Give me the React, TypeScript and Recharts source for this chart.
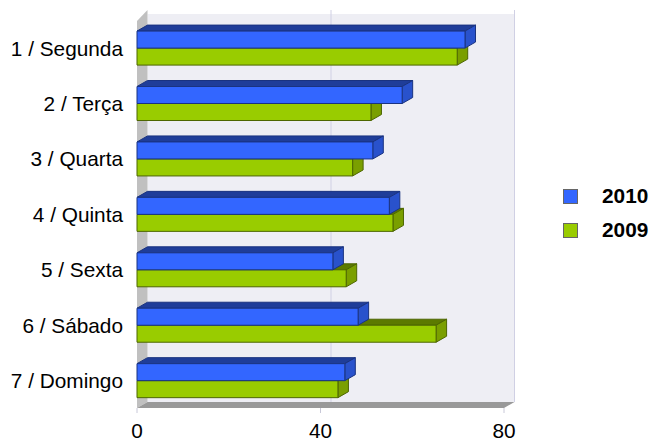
import { Bar, BarChart, CartesianGrid, Legend, XAxis, YAxis } from 'recharts';

const DAYS = ['1 / Segunda', '2 / Terça', '3 / Quarta', '4 / Quinta', '5 / Sexta', '6 / Sábado', '7 / Domingo'];
const VALUES_2010 = [71.5, 57.8, 51.4, 55, 42.7, 48.2, 45.3];
const VALUES_2009 = [69.8, 51, 47, 55.8, 45.6, 65.2, 43.8];
const X_TICKS = [0, 40, 80];
const X_MAX = 80;

const data = DAYS.map((name, i) => ({ name, v2010: VALUES_2010[i], v2009: VALUES_2009[i] }));

const FONT = '"Liberation Sans", Arial, sans-serif';
const FONT_SIZE = 20.8;
const DX = 10.5;
const DY = 6;

// plot area in pixels, the walls hang off it
const LEFT = 137;
const RIGHT = 504;
const TOP = 20;
const BOTTOM = 408;
const WALL_TOP = 10;
const LEGEND_WIDTH = 88;

const BLUE = { front: '#3366ff', top: '#1f3d99', side: '#2952cc', line: '#1a3380' };
const GREEN = { front: '#99cc00', top: '#5c7a00', side: '#7a9f00', line: '#4d6600' };

// bars are declared 2009 first so 2010 paints over it, then swapped into their slots
function box(colors: typeof BLUE, slot: number) {
  return (props: any) => {
    const { x, y: y0, width: w, height: h } = props;
    const y = y0 + slot * h;
    return (
      <g stroke={colors.line} strokeWidth={1} strokeLinejoin="round">
        <polygon fill={colors.top} points={`${x},${y} ${x + DX},${y - DY} ${x + w + DX},${y - DY} ${x + w},${y}`} />
        <polygon fill={colors.side} points={`${x + w},${y} ${x + w + DX},${y - DY} ${x + w + DX},${y + h - DY} ${x + w},${y + h}`} />
        <rect x={x} y={y} width={w} height={h} fill={colors.front} />
      </g>
    );
  };
}

// sits behind the chart's own svg, the grid draws below plain svg children otherwise
function Walls() {
  return (
    <svg width={651} height={441} style={{ position: 'absolute', left: 0, top: 0 }}>
      <polygon fill="#eeeef4" points={`${LEFT + DX},${TOP - DY} ${RIGHT + DX},${TOP - DY} ${RIGHT + DX},${BOTTOM - DY} ${LEFT + DX},${BOTTOM - DY}`} />
      <polygon fill="#c0c0c0" points={`${LEFT},${TOP + 1} ${LEFT + DX},${WALL_TOP} ${LEFT + DX},${BOTTOM - DY} ${LEFT},${BOTTOM}`} />
      <polygon fill="#999999" points={`${LEFT},${BOTTOM} ${LEFT + DX},${BOTTOM - DY} ${RIGHT + DX},${BOTTOM - DY} ${RIGHT},${BOTTOM}`} />
    </svg>
  );
}

function LegendBox() {
  const items = [
    { label: '2010', color: BLUE.front },
    { label: '2009', color: GREEN.front },
  ];
  return (
    <div style={{ fontFamily: FONT, fontSize: FONT_SIZE, fontWeight: 700, color: '#000' }}>
      {items.map((item) => (
        <div key={item.label} style={{ display: 'flex', alignItems: 'center', height: 34 }}>
          <span style={{ width: 13, height: 13, background: item.color, border: '1px solid #666', marginRight: 24 }} />
          {item.label}
        </div>
      ))}
    </div>
  );
}

export default function App() {
  return (
    <div style={{ position: 'absolute', left: 0, top: 0, width: 651, height: 441, background: '#fff' }}>
      <Walls />
      <BarChart
        width={651}
        height={441}
        data={data}
        layout="vertical"
        barCategoryGap="20%"
        barGap={0}
        margin={{ top: TOP, right: 651 - RIGHT - LEGEND_WIDTH, bottom: 0, left: 0 }}
      >
        <CartesianGrid
          horizontal={false}
          stroke="#d0d0e4"
          y={WALL_TOP}
          height={BOTTOM - DY - WALL_TOP}
          verticalCoordinatesGenerator={({ offset }: any) =>
            X_TICKS.filter((t) => t > 0).map((t) => offset.left + (t / X_MAX) * offset.width + DX)
          }
        />
        <XAxis
          type="number"
          domain={[0, X_MAX]}
          ticks={X_TICKS}
          height={441 - BOTTOM}
          axisLine={false}
          tickLine={{ stroke: '#c8c8d8' }}
          tickSize={5}
          tickMargin={10}
          tick={{ fill: '#000', fontFamily: FONT, fontSize: FONT_SIZE }}
        />
        <YAxis
          type="category"
          dataKey="name"
          width={LEFT}
          axisLine={false}
          tickLine={false}
          tickMargin={14}
          tickSize={0}
          interval={0}
          tick={{ fill: '#000', fontFamily: FONT, fontSize: FONT_SIZE, dy: 0.5 }}
        />
        <Legend
          layout="vertical"
          align="right"
          verticalAlign="top"
          wrapperStyle={{ left: 563, top: 179, width: LEGEND_WIDTH }}
          content={<LegendBox />}
        />
        <Bar dataKey="v2009" name="2009" isAnimationActive={false} shape={box(GREEN, 1)} />
        <Bar dataKey="v2010" name="2010" isAnimationActive={false} shape={box(BLUE, -1)} />
      </BarChart>
    </div>
  );
}
